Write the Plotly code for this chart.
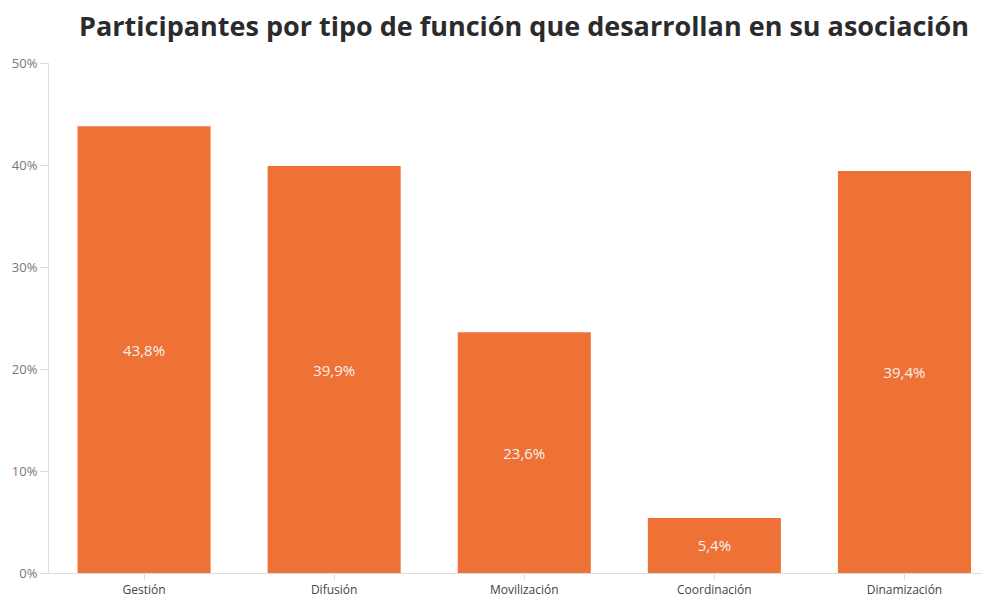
import plotly.graph_objects as go

categorias = ["Gestión", "Difusión", "Movilización", "Coordinación", "Dinamización"]
porcentajes = [43.8, 39.9, 23.6, 5.4, 39.4]
etiquetas = ["43,8%", "39,9%", "23,6%", "5,4%", "39,4%"]
ticks_y = [0, 10, 20, 30, 40, 50]
ticks_y_txt = ["0%", "10%", "20%", "30%", "40%", "50%"]

fig = go.Figure()
fig.add_trace(go.Bar(
    x=categorias,
    y=porcentajes,
    text=etiquetas,
    textposition="inside",
    insidetextanchor="middle",
    textfont=dict(color="#f6f1ee", size=15, family="Open Sans"),
    marker=dict(color="#ee7136", line=dict(width=0)),
    hoverinfo="skip",
))

# the page body adds an 8px margin, so the figure is a bit smaller than the window
fig.update_layout(
    width=982,
    height=590,
    margin=dict(l=41, r=0, t=55, b=25, autoexpand=False),
    paper_bgcolor="white",
    plot_bgcolor="white",
    bargap=0.3,
    showlegend=False,
    title=dict(
        text="<b>Participantes por tipo de función que desarrollan en su asociación</b>",
        x=0.5255, xanchor="center", y=0.968, yanchor="middle",
        font=dict(size=27, color="#2b2b2e", family="Open Sans"),
    ),
    font=dict(family="Open Sans", color="#555555"),
)

fig.update_xaxes(
    range=[-0.5, 4.45], automargin=False,
    showline=True, linecolor="#dddddd", linewidth=1,
    ticks="outside", ticklen=6, tickcolor="#dddddd",
    ticklabelstandoff=0,
    tickfont=dict(size=12, color="#444444"),
    showgrid=False, fixedrange=True,
)
fig.update_yaxes(
    range=[0, 50], automargin=False,
    tickvals=ticks_y, ticktext=ticks_y_txt,
    showline=True, linecolor="#dddddd", linewidth=1,
    ticks="outside", ticklen=8, tickcolor="#dddddd",
    tickfont=dict(size=13, color="#777777"),
    showgrid=False, zeroline=False, fixedrange=True,
)

fig.write_html("out.html")
